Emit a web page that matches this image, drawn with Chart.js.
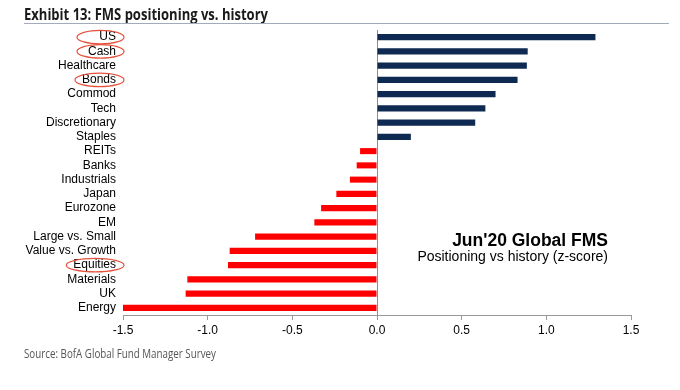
<!DOCTYPE html>
<html>
<head>
<meta charset="utf-8">
<script src="https://cdn.jsdelivr.net/npm/chart.js@4.4.1/dist/chart.umd.min.js"></script>
<style>
  html, body { margin: 0; padding: 0; background: #fff; }
  #wrap { position: relative; width: 680px; height: 390px; overflow: hidden; }
  #c { position: absolute; left: 0; top: 0; }
  .title { position: absolute; left: 24px; top: 3px; font-family: "Open Sans", "DejaVu Sans Condensed", sans-serif; font-weight: bold; font-size: 16px; color: #1a1a1a; white-space: nowrap; transform-origin: 0 0; }
  .rule { position: absolute; left: 24px; top: 23px; width: 645px; height: 0; border-top: 1.5px solid #a3abba; }
  .source { position: absolute; left: 24px; top: 345px; font-family: "Open Sans", "DejaVu Sans Condensed", sans-serif; font-size: 12.5px; color: #555; white-space: nowrap; transform-origin: 0 0; }
  .ann1 { position: absolute; right: 72px; top: 230px; font-family: "Liberation Sans", Arial, sans-serif; font-weight: bold; font-size: 17.5px; color: #000; white-space: nowrap; }
  .ann2 { position: absolute; right: 72px; top: 248px; font-family: "Liberation Sans", Arial, sans-serif; font-size: 14px; color: #000; white-space: nowrap; }
</style>
</head>
<body>
<div id="wrap">
  <canvas id="c" width="680" height="390"></canvas>
  <div class="title" id="title" data-w="244">Exhibit 13: FMS positioning vs. history</div>
  <div class="rule"></div>
  <div class="source" id="source" data-w="192">Source: BofA Global Fund Manager Survey</div>
  <div class="ann1">Jun'20 Global FMS</div>
  <div class="ann2">Positioning vs history (z-score)</div>
</div>
<script>
const categories = ["US", "Cash", "Healthcare", "Bonds", "Commod", "Tech", "Discretionary", "Staples",
  "REITs", "Banks", "Industrials", "Japan", "Eurozone", "EM", "Large vs. Small", "Value vs. Growth",
  "Equities", "Materials", "UK", "Energy"];
const zScores = [1.29, 0.89, 0.885, 0.83, 0.70, 0.64, 0.58, 0.20,
  -0.10, -0.12, -0.16, -0.24, -0.33, -0.37, -0.72, -0.87,
  -0.88, -1.12, -1.13, -1.50];
const xTicks = [-1.5, -1.0, -0.5, 0.0, 0.5, 1.0, 1.5];
const circled = ["US", "Cash", "Bonds", "Equities"];

// condense the narrow header/footer text to the reference widths
["title", "source"].forEach(id => {
  const el = document.getElementById(id);
  const w = el.getBoundingClientRect().width;
  el.style.transform = "scaleX(" + (Number(el.dataset.w) / w) + ")";
});

const NAVY = "#0f2a52";
const RED = "#ff0000";
const LABEL_FONT = '12px "Liberation Sans", Arial, sans-serif';

const ellipsePlugin = {
  id: "ellipses",
  afterDraw(chart) {
    const ctx = chart.ctx;
    const y = chart.scales.y;
    const right = y.right - y.options.ticks.padding;
    ctx.save();
    ctx.font = LABEL_FONT;
    ctx.strokeStyle = "#e5503c";
    ctx.lineWidth = 1.2;
    circled.forEach(name => {
      const i = categories.indexOf(name);
      const cy = y.getPixelForValue(i);
      const tw = ctx.measureText(name).width;
      const w = Math.max(tw + 15, 47);
      const rEdge = right + 8;
      const cx = rEdge - w / 2;
      ctx.beginPath();
      ctx.ellipse(cx, cy, w / 2, 6.8, 0, 0, Math.PI * 2);
      ctx.stroke();
    });
    ctx.restore();
  }
};

new Chart(document.getElementById("c"), {
  type: "bar",
  data: {
    labels: categories,
    datasets: [{
      data: zScores,
      backgroundColor: zScores.map(v => v >= 0 ? NAVY : RED),
      barPercentage: 0.85,
      categoryPercentage: 0.5
    }]
  },
  options: {
    indexAxis: "y",
    responsive: false,
    animation: false,
    layout: { padding: { left: 0, right: 49, top: 30, bottom: 0 } },
    plugins: { legend: { display: false }, tooltip: { enabled: false }, title: { display: false } },
    scales: {
      x: {
        min: -1.5, max: 1.5,
        afterBuildTicks(scale) { scale.ticks = xTicks.map(v => ({ value: v })); },
        afterFit(scale) { scale.height = 390 - 30 - 285; },
        ticks: {
          color: "#000",
          font: { family: '"Liberation Sans", Arial, sans-serif', size: 12 },
          padding: 3,
          maxRotation: 0,
          callback: v => Number(v).toFixed(1)
        },
        grid: {
          drawOnChartArea: true,
          color: ctx => (ctx.tick && ctx.tick.value === 0) ? "#8c8c8c" : "rgba(0,0,0,0)",
          tickColor: "#9a9a9a",
          tickLength: 5,
          lineWidth: 1
        },
        border: { display: true, color: "#9a9a9a", width: 1 }
      },
      y: {
        afterFit(scale) { scale.width = 123; },
        ticks: {
          color: "#000",
          font: { family: '"Liberation Sans", Arial, sans-serif', size: 12 },
          padding: 7,
          autoSkip: false
        },
        grid: { display: false, drawTicks: false, tickLength: 0 },
        border: { display: false }
      }
    }
  },
  plugins: [ellipsePlugin]
});
</script>
</body>
</html>
